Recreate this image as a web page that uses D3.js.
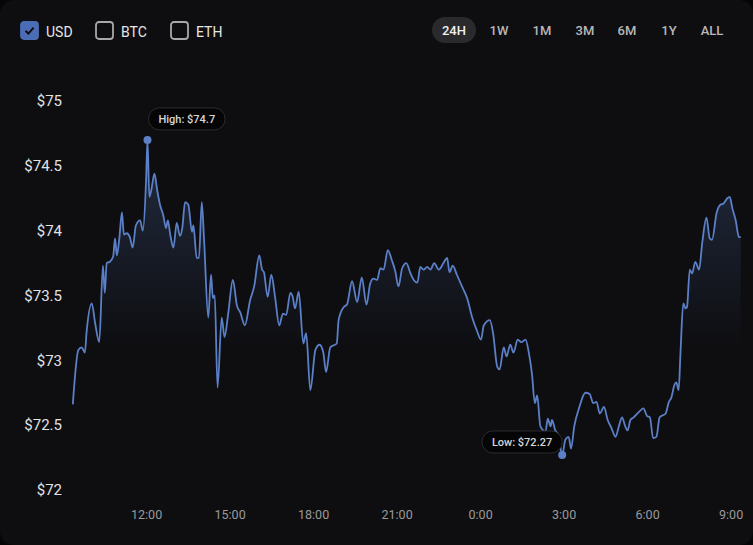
<!DOCTYPE html>
<html>
<head>
<meta charset="utf-8">
<script src="https://cdn.jsdelivr.net/npm/d3@7"></script>
<style>
  html, body { margin: 0; padding: 0; background: #050506; }
  svg { display: block; font-family: Roboto, "Noto Sans", sans-serif; }
</style>
</head>
<body>
<svg id="chart" width="753" height="545"></svg>
<script>
  // minutes after the first quote (09:22) and the USD price at that minute
  var minutes = [0,12,19,26,30,41,48,57,65,69,73,80,87,91,95,100,106,110,116,123,129,136,145,151,158,161,165,169,176,182,188,195,201,205,210,217,224,231,236,242,249,257,260,267,272,278,283,292,298,302,306,312,321,327,335,345,354,361,371,382,391,402,408,412,420,428,436,445,453,460,469,474,479,487,497,503,512,523,532,540,546,555,569,573,584,591,602,613,623,633,641,648,656,663,670,679,688,695,702,710,719,728,735,743,749,756,764,771,779,789,799,807,812,819,828,839,850,861,871,880,886,899,906,915,920,929,935,943,950,959,967,976,983,990,996,1001,1008,1019,1024,1030,1033,1040,1047,1055,1062,1069,1074,1081,1092,1105,1114,1122,1129,1136,1145,1153,1161,1170,1177,1184,1191,1196,1202,1209,1220,1230,1238,1244,1251,1258,1265,1278,1285,1290,1297,1301,1306,1310,1316,1321,1324,1330,1335,1342,1350,1357,1366,1373,1378,1388,1396,1403,1411,1416,1422,1429,1436,1440];
  var prices = [72.66,73.08,73.10,73.06,73.23,73.44,73.29,73.14,73.73,73.52,73.75,73.76,73.80,73.94,73.81,73.93,74.14,73.97,73.98,73.95,73.87,74.04,74.08,74.00,74.39,74.70,74.26,74.31,74.44,74.31,74.20,74.12,74.02,74.08,73.97,73.87,74.06,73.96,74.02,74.22,74.20,73.99,74.04,73.79,73.79,74.22,73.93,73.33,73.66,73.48,73.50,72.79,73.33,73.18,73.36,73.62,73.42,73.37,73.27,73.46,73.57,73.81,73.70,73.68,73.49,73.66,73.49,73.27,73.36,73.35,73.52,73.49,73.40,73.53,73.13,73.21,72.77,73.08,73.12,73.06,72.91,73.10,73.13,73.31,73.41,73.43,73.61,73.45,73.64,73.43,73.59,73.63,73.62,73.71,73.70,73.85,73.77,73.69,73.57,73.71,73.75,73.67,73.62,73.60,73.72,73.70,73.72,73.70,73.75,73.70,73.75,73.79,73.68,73.73,73.66,73.57,73.48,73.33,73.23,73.16,73.27,73.31,73.21,72.95,72.93,73.10,73.03,73.12,73.06,73.16,73.14,73.16,73.06,72.89,72.67,72.73,72.49,72.45,72.55,72.49,72.54,72.46,72.42,72.27,72.39,72.41,72.32,72.49,72.64,72.75,72.74,72.67,72.68,72.59,72.64,72.54,72.48,72.41,72.49,72.56,72.49,72.46,72.54,72.56,72.60,72.63,72.57,72.56,72.40,72.41,72.56,72.59,72.68,72.71,72.81,72.83,72.77,73.06,73.44,73.40,73.41,73.70,73.67,73.76,73.70,73.91,74.10,73.94,73.93,74.14,74.20,74.21,74.25,74.26,74.17,74.08,73.95,73.95];

  var currencies = ["USD", "BTC", "ETH"];
  var ranges = ["24H", "1W", "1M", "3M", "6M", "1Y", "ALL"];
  var yTicks = [72, 72.5, 73, 73.5, 74, 74.5, 75];

  var start = new Date(2024, 0, 1, 9, 22);

  var data = minutes.map(function(m, i) {
    return { t: new Date(start.getTime() + m * 60000), v: prices[i] };
  });

  var svg = d3.select("#chart");

  // card
  svg.append("rect")
    .attr("width", 753).attr("height", 545)
    .attr("rx", 14)
    .style("fill", "#0e0e11");

  var x = d3.scaleTime()
    .domain([start, d3.timeHour.offset(start, 24)])
    .range([72.8, 740.8]);

  var y = d3.scaleLinear()
    .domain([72, 75])
    .range([490, 101]);

  // ---------------- legend checkboxes ----------------
  var legend = svg.selectAll(".cur")
    .data(currencies)
    .enter().append("g")
    .attr("class", "cur")
    .attr("transform", function(d, i) { return "translate(" + [21, 96, 171][i] + ",22)"; });

  legend.append("rect")
    .attr("width", 17).attr("height", 17).attr("rx", 3)
    .style("fill", function(d, i) { return i == 0 ? "#4b6db5" : "none"; })
    .style("stroke", function(d, i) { return i == 0 ? "#4b6db5" : "#a8a8a8"; })
    .style("stroke-width", 1.8);

  legend.filter(function(d, i) { return i == 0; })
    .append("path")
    .attr("d", "M4.5,8.8 L7.4,11.6 L12.6,5.6")
    .style("fill", "none")
    .style("stroke", "#0e0e11")
    .style("stroke-width", 2);

  legend.append("text")
    .attr("x", 25).attr("y", 14.5)
    .style("fill", "#e6e6e6")
    .style("font-size", "14px")
    .text(function(d) { return d; });

  // ---------------- range buttons ----------------
  var btnX = [454, 499, 542, 585, 627, 669, 712];

  svg.append("rect")
    .attr("x", 432).attr("y", 17)
    .attr("width", 44).attr("height", 26).attr("rx", 13)
    .style("fill", "#2a2a2c");

  svg.selectAll(".range")
    .data(ranges)
    .enter().append("text")
    .attr("class", "range")
    .attr("x", function(d, i) { return btnX[i]; })
    .attr("y", 34.5)
    .attr("text-anchor", "middle")
    .style("font-size", "13px")
    .style("font-weight", 500)
    .style("fill", function(d, i) { return i == 0 ? "#f0f0f0" : "#b8b8b8"; })
    .text(function(d) { return d; });

  // ---------------- axes ----------------
  var yAxis = d3.axisLeft(y)
    .tickValues(yTicks)
    .tickSize(0)
    .tickPadding(0)
    .tickFormat(function(d) { return "$" + d3.format("~g")(d); });

  svg.append("g")
    .attr("class", "y axis")
    .attr("transform", "translate(62,0)")
    .call(yAxis)
    .call(function(g) { g.select(".domain").remove(); })
    .selectAll("text")
    .style("fill", "#e2e2e2")
    .style("font-size", "15px")
    .style("font-family", "Roboto, sans-serif");

  var xAxis = d3.axisBottom(x)
    .ticks(d3.timeHour.every(3))
    .tickSize(0)
    .tickPadding(0)
    .tickFormat(d3.timeFormat("%-H:%M"));

  svg.append("g")
    .attr("class", "x axis")
    .attr("transform", "translate(0,510)")
    .call(xAxis)
    .call(function(g) { g.select(".domain").remove(); })
    .selectAll("text")
    .style("fill", "#9a9a9a")
    .style("font-size", "12.5px")
    .style("font-family", "Roboto, sans-serif");

  // ---------------- area + line ----------------
  var grad = svg.append("defs").append("linearGradient")
    .attr("id", "fade")
    .attr("gradientUnits", "userSpaceOnUse")
    .attr("x1", 0).attr("x2", 0)
    .attr("y1", y(74.7)).attr("y2", y(73.1));
  grad.append("stop").attr("offset", "0%").attr("stop-color", "#5b7fc7").attr("stop-opacity", 0.26);
  grad.append("stop").attr("offset", "100%").attr("stop-color", "#5b7fc7").attr("stop-opacity", 0);

  var area = d3.area()
    .x(function(d) { return x(d.t); })
    .y0(y(72))
    .y1(function(d) { return y(d.v); })
    .curve(d3.curveMonotoneX);

  var line = d3.line()
    .x(function(d) { return x(d.t); })
    .y(function(d) { return y(d.v); })
    .curve(d3.curveMonotoneX);

  svg.append("path")
    .datum(data)
    .attr("d", area)
    .style("fill", "url(#fade)");

  svg.append("path")
    .datum(data)
    .attr("d", line)
    .style("fill", "none")
    .style("stroke", "#5b80c8")
    .style("stroke-width", 1.8)
    .style("stroke-linejoin", "round");

  // ---------------- high / low markers ----------------
  var hi = data[d3.maxIndex(data, function(d) { return d.v; })];
  var lo = data[d3.minIndex(data, function(d) { return d.v; })];

  function marker(d, label, side) {
    var cx = x(d.t), cy = y(d.v);
    svg.append("circle")
      .attr("cx", cx).attr("cy", cy).attr("r", 4)
      .style("fill", "#5b80c8");

    var g = svg.append("g");
    var txt = g.append("text")
      .style("font-size", "11px")
      .style("font-weight", 500)
      .style("fill", "#d6d6d6")
      .text(label);
    var w = txt.node().getComputedTextLength() + 20;
    var bx = side == "right" ? cx + 1 : cx - w;
    var by = side == "right" ? cy - 32 : cy - 24;
    g.insert("rect", "text")
      .attr("x", bx).attr("y", by)
      .attr("width", w).attr("height", 22).attr("rx", 11)
      .style("fill", "#050506")
      .style("stroke", "#2c2c30");
    txt.attr("x", bx + w / 2).attr("y", by + 15).attr("text-anchor", "middle");
  }

  marker(hi, "High: $" + d3.format("~g")(hi.v), "right");
  marker(lo, "Low: $" + lo.v.toFixed(2), "left");
</script>
</body>
</html>
